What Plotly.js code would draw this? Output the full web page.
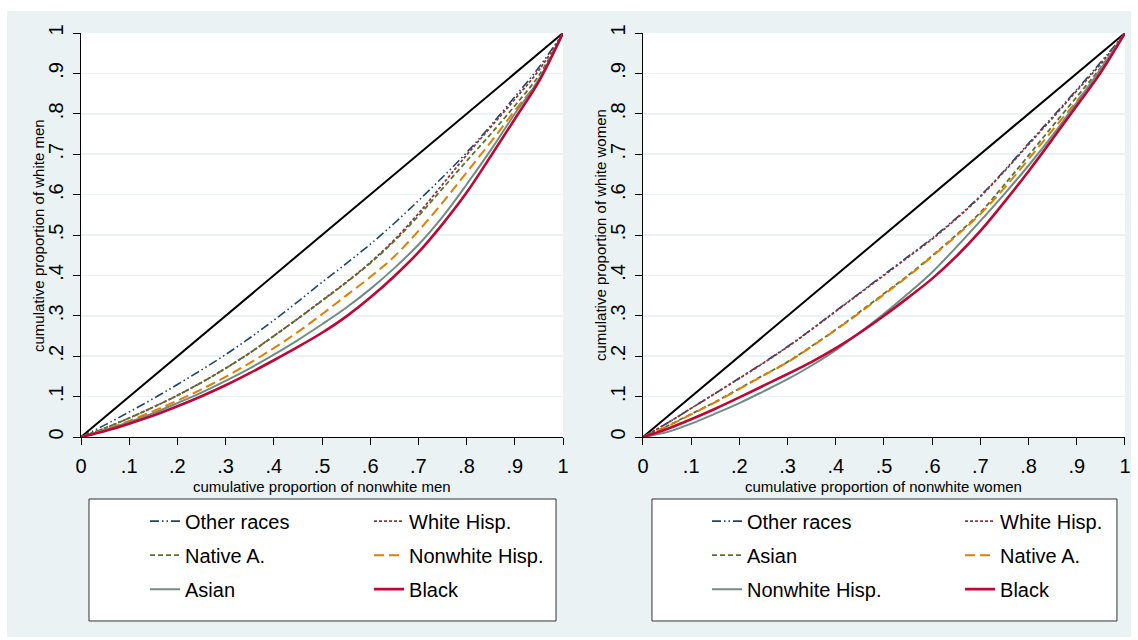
<!DOCTYPE html>
<html><head><meta charset="utf-8">
<script src="https://cdn.plot.ly/plotly-3.0.1.min.js"></script>
<style>
html,body{margin:0;padding:0;background:#ffffff;width:1138px;height:640px;overflow:hidden}
#chart{position:absolute;left:7px;top:11px;width:1124px;height:626px}
</style>
</head><body><div id="chart"></div>
<script>
// cumulative proportion of nonwhite (x grid)
const xs = [0,.05,.1,.15,.2,.25,.3,.35,.4,.45,.5,.55,.6,.65,.7,.75,.8,.85,.9,.95,1];
const equalityX = [0,1];
const equalityY = [0,1];

// Men: cumulative proportion of white men
const menOther    = [0,.030,.062,.095,.130,.166,.204,.245,.289,.335,.383,.429,.477,.529,.585,.643,.704,.771,.842,.915,1];
const menWhiteH   = [0,.022,.047,.074,.103,.135,.170,.208,.250,.293,.338,.383,.432,.488,.553,.625,.698,.767,.836,.908,1];
const menNativeA  = [0,.022,.047,.074,.103,.135,.170,.208,.250,.293,.337,.382,.430,.485,.547,.615,.683,.750,.820,.895,1];
const menNonwhH   = [0,.018,.040,.064,.090,.118,.149,.183,.220,.260,.304,.350,.396,.447,.510,.580,.655,.730,.808,.885,1];
const menAsian    = [0,.017,.037,.059,.084,.110,.139,.170,.204,.240,.279,.320,.366,.418,.476,.545,.625,.710,.800,.885,1];
const menBlack    = [0,.015,.033,.053,.076,.101,.128,.158,.190,.223,.258,.298,.345,.398,.457,.527,.605,.695,.787,.880,1];

// Women: cumulative proportion of white women
const womOther    = [0,.034,.071,.108,.146,.184,.224,.267,.312,.357,.402,.447,.492,.542,.597,.660,.727,.793,.860,.928,1];
const womWhiteH   = [0,.034,.071,.108,.145,.183,.223,.266,.311,.356,.400,.445,.490,.540,.595,.658,.724,.790,.857,.924,1];
const womAsian    = [0,.027,.057,.087,.120,.153,.186,.225,.266,.310,.355,.400,.449,.500,.556,.625,.697,.770,.842,.915,1];
const womNativeA  = [0,.026,.056,.086,.119,.152,.185,.224,.265,.308,.353,.398,.447,.498,.552,.617,.688,.760,.832,.907,1];
const womNonwhH   = [0,.012,.033,.058,.084,.113,.143,.177,.215,.259,.305,.355,.408,.470,.535,.602,.672,.747,.828,.912,1];
const womBlack    = [0,.020,.044,.070,.098,.127,.156,.186,.220,.258,.300,.345,.392,.447,.510,.582,.658,.738,.820,.903,1];

const tickVals = [0,.1,.2,.3,.4,.5,.6,.7,.8,.9,1];
const tickText = ['0','.1','.2','.3','.4','.5','.6','.7','.8','.9','1'];

const C = {navy:'#1a476f', maroon:'#90353b', green:'#55752f', orange:'#e37e00', teal:'#6e8e84', cran:'#c10534'};
const ST = {
  other:  {color:C.navy,   width:1.6, dash:'9px,3px,1.5px,3px,1.5px,3px'},
  whiteH: {color:C.maroon, width:1.8, dash:'3px,2px'},
  green:  {color:C.green,  width:1.8, dash:'5px,3px'},
  orange: {color:C.orange, width:2,   dash:'10px,5px'},
  teal:   {color:C.teal,   width:2,   dash:'solid'},
  black:  {color:C.cran,   width:2.6, dash:'solid'}
};

function tr(name, y, st, xa, ya, leg, grp){
  return {type:'scatter', mode:'lines', x:xs, y:y, name:name,
    line:Object.assign({shape:'spline', smoothing:1}, st),
    xaxis:xa, yaxis:ya, legend:leg, legendgroup:grp, hoverinfo:'skip'};
}
function eq(xa, ya){
  return {type:'scatter', mode:'lines', x:equalityX, y:equalityY, showlegend:false,
    line:{color:'#000', width:2}, xaxis:xa, yaxis:ya, hoverinfo:'skip'};
}

const data = [
  eq('x','y'),
  tr('Other races', menOther, ST.other, 'x','y','legend','a1'),
  tr('White Hisp.', menWhiteH, ST.whiteH, 'x','y','legend2','a2'),
  tr('Native A.', menNativeA, ST.green, 'x','y','legend','a3'),
  tr('Nonwhite Hisp.', menNonwhH, ST.orange, 'x','y','legend2','a4'),
  tr('Asian', menAsian, ST.teal, 'x','y','legend','a5'),
  tr('Black', menBlack, ST.black, 'x','y','legend2','a6'),
  eq('x2','y2'),
  tr('Other races', womOther, ST.other, 'x2','y2','legend3','b1'),
  tr('White Hisp.', womWhiteH, ST.whiteH, 'x2','y2','legend4','b2'),
  tr('Asian', womAsian, ST.green, 'x2','y2','legend3','b3'),
  tr('Native A.', womNativeA, ST.orange, 'x2','y2','legend4','b4'),
  tr('Nonwhite Hisp.', womNonwhH, ST.teal, 'x2','y2','legend3','b5'),
  tr('Black', womBlack, ST.black, 'x2','y2','legend4','b6')
];

const FONT = 'Liberation Sans, Arial, sans-serif';
function xAx(dom, anchor){
  return {domain:dom, anchor:anchor, range:[0,1], fixedrange:true, showgrid:false, zeroline:false,
    showline:true, linecolor:'#000', linewidth:1, mirror:false,
    ticks:'outside', ticklen:7, tickwidth:1, tickcolor:'#000',
    tickvals:tickVals, ticktext:tickText, tickfont:{family:FONT, size:20, color:'#000'},
    ticklabelstandoff:4};
}
function yAx(anchor){
  return {domain:[0,1], anchor:anchor, range:[0,1], fixedrange:true, showgrid:true,
    gridcolor:'#EAF2F3', gridwidth:1.5, zeroline:false,
    showline:true, linecolor:'#000', linewidth:1,
    ticks:'outside', ticklen:7, tickwidth:1, tickcolor:'#000',
    tickvals:tickVals, ticktext:tickText, tickangle:-90, tickfont:{family:FONT, size:20, color:'#000'},
    ticklabelstandoff:2};
}
function leg(x){
  return {x:x, y:-0.16, xanchor:'left', yanchor:'top', orientation:'v', bgcolor:'rgba(0,0,0,0)',
    borderwidth:0, font:{family:FONT, size:20, color:'#000'}, tracegroupgap:5, traceorder:'grouped'};
}
function ttl(text, x, y, ang){
  return {text:text, xref:'paper', yref:'paper', x:x, y:y, xanchor:'center', yanchor:'middle',
    textangle:ang, showarrow:false, font:{family:FONT, size:15, color:'#000'}};
}

const layout = {
  width:1124, height:626,
  margin:{l:74, r:6, t:22, b:200},
  paper_bgcolor:'#EAF2F3', plot_bgcolor:'#ffffff',
  font:{family:FONT, color:'#000'},
  showlegend:true,
  xaxis: xAx([0,0.4617], 'y'),
  yaxis: yAx('x'),
  xaxis2: xAx([0.5383,1], 'y2'),
  yaxis2: yAx('x2'),
  legend: leg(0.0613),
  legend2: leg(0.2759),
  legend3: leg(0.5996),
  legend4: leg(0.842),
  annotations:[
    ttl('cumulative proportion of nonwhite men', 0.2308, -0.1213, 0),
    ttl('cumulative proportion of nonwhite women', 0.7691, -0.1213, 0),
    ttl('cumulative proportion of white men', -0.0412, 0.5, -90),
    ttl('cumulative proportion of white women', 0.4971, 0.5, -90)
  ],
  shapes:[
    {type:'rect', xref:'paper', yref:'paper', x0:0.00766, x1:0.455, y0:-0.4554, y1:-0.1535,
     fillcolor:'#ffffff', line:{color:'#333333', width:1}, layer:'below'},
    {type:'rect', xref:'paper', yref:'paper', x0:0.5469, x1:0.9923, y0:-0.4554, y1:-0.1535,
     fillcolor:'#ffffff', line:{color:'#333333', width:1}, layer:'below'}
  ]
};

Plotly.newPlot('chart', data, layout, {displayModeBar:false, staticPlot:true});
</script>
</body></html>
